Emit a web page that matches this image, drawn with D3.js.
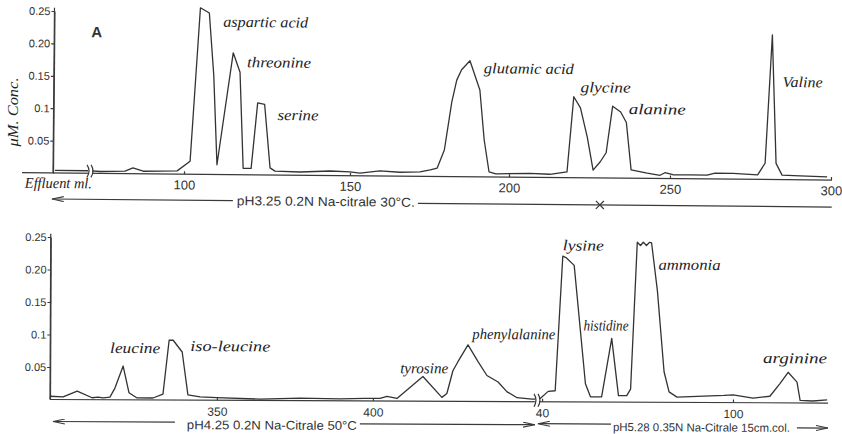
<!DOCTYPE html>
<html>
<head>
<meta charset="utf-8">
<script src="https://cdn.jsdelivr.net/npm/d3@7"></script>
<style>
  body { margin: 0; background: #fff; }
  svg { display: block; }
  .curve { fill: none; stroke: #333; stroke-width: 1.3; stroke-linejoin: round; }
  .rule { stroke: #3a3a3a; stroke-width: 1.2; fill: none; }
  .tick line, .domain { stroke: #3a3a3a; stroke-width: 1.2; }
  .tick text { fill: #333; font-family: 'Liberation Sans', sans-serif; }
  .hand { fill: #222; font-family: 'Liberation Serif', serif; font-style: italic; font-size: 15px; }
  .buffer { fill: #333; font-family: 'Liberation Sans', sans-serif; }
</style>
</head>
<body>
<svg id="chart" width="842" height="434"></svg>
<script>
// ---- run A, first column: effluent ml vs concentration ----
const topVolume = [60.6, 70.7, 74.4, 82.0, 84.4, 87.5, 97.9, 101.8, 104.5, 107.2, 108.7, 109.9,
  114.5, 116.6, 117.8, 120.2, 122.0, 124.1, 125.9, 127.4, 134.9, 144.0, 150.0, 153.1, 159.4,
  165.7, 172.0, 175.2, 177.4, 179.6, 181.8, 183.3, 184.8, 187.4, 190.6, 192.1, 193.7, 195.9,
  206.5, 212.7, 218.0, 219.9, 222.0, 224.2, 226.1, 228.3, 230.1, 232.0, 234.5, 236.3, 237.9,
  242.9, 246.9, 248.4, 250.9, 256.2, 261.5, 264.0, 269.6, 277.2, 279.5, 281.4, 282.9, 284.8,
  290.4, 298.8]
const topConc = [0.004, 0.004, 0.003, 0.004, 0.009, 0.004, 0.005, 0.020, 0.257, 0.249, 0.153, 0.015,
  0.188, 0.158, 0.010, 0.010, 0.111, 0.109, 0.011, 0.006, 0.005, 0.007, 0.006, 0.004, 0.008,
  0.006, 0.007, 0.010, 0.013, 0.041, 0.115, 0.149, 0.165, 0.179, 0.134, 0.057, 0.008, 0.005,
  0.006, 0.005, 0.009, 0.125, 0.108, 0.063, 0.012, 0.025, 0.039, 0.111, 0.102, 0.086, 0.013,
  0.008, 0.005, 0.009, 0.006, 0.006, 0.006, 0.009, 0.009, 0.007, 0.025, 0.223, 0.025, 0.007,
  0.006, 0.005]

// ---- second part, pH 4.25 buffer ----
const lowVolume1 = [296.5, 300.7, 305.2, 310.0, 311.9, 313.5, 315.7, 317.3, 319.9, 321.8, 324.4,
  329.5, 332.7, 334.6, 335.9, 338.8, 340.7, 344.6, 350.0, 363.8, 376.6, 389.4, 397.4, 402.3,
  404.5, 407.7, 416.0, 422.1, 423.7, 425.6, 427.2, 430.4, 433.7, 436.5, 440.1, 443.0, 446.2,
  451.0, 452.6]
const lowConc1 = [0.005, 0.004, 0.013, 0.003, 0.004, 0.003, 0.004, 0.018, 0.052, 0.011, 0.003,
  0.003, 0.009, 0.092, 0.092, 0.074, 0.008, 0.005, 0.004, 0.002, 0.004, 0.003, 0.004, 0.004,
  0.007, 0.004, 0.038, 0.006, 0.012, 0.047, 0.061, 0.087, 0.061, 0.040, 0.030, 0.015, 0.006,
  0.004, 0.004]

// ---- 15 cm column, pH 5.28 buffer ----
const lowVolume2 = [38.4, 39.4, 41.9, 44.1, 46.3, 47.3, 49.9, 53.6, 55.2, 58.7, 61.8, 64.0, 66.6,
  67.8, 69.7, 70.7, 71.6, 72.6, 73.5, 74.2, 76.1, 78.3, 79.9, 82.4, 97.2, 100.0, 106.3, 111.6,
  114.8, 117.3, 120.1, 121.1, 125.1, 129.6]
const lowConc2 = [0.005, 0.005, 0.016, 0.017, 0.224, 0.222, 0.210, 0.028, 0.008, 0.008, 0.098,
  0.010, 0.010, 0.020, 0.246, 0.241, 0.246, 0.241, 0.246, 0.245, 0.171, 0.047, 0.016, 0.008,
  0.011, 0.012, 0.007, 0.010, 0.030, 0.047, 0.032, 0.004, 0.003, 0.005]

// peak names, anchored in data units (volume, conc) where the writing starts
const topNames = ['aspartic acid', 'threonine', 'serine', 'glutamic acid', 'glycine', 'alanine', 'Valine']
const topNameVol = [111.4, 118.7, 128.0, 191.8, 222.0, 237.0, 284.7]
const topNameConc = [0.228, 0.166, 0.085, 0.160, 0.132, 0.099, 0.143]
const lowNames1 = ['leucine', 'iso-leucine', 'tyrosine', 'phenylalanine']
const lowNameVol1 = [315.7, 341.4, 408.7, 431.8]
const lowNameConc1 = [0.072, 0.0755, 0.043, 0.096]
const lowNames2 = ['lysine', 'histidine', 'ammonia', 'arginine']
const lowNameVol2 = [46.3, 52.9, 76.4, 109.4]
const lowNameConc2 = [0.233, 0.110, 0.204, 0.061]

const concTicks = [0.05, 0.1, 0.15, 0.2, 0.25]
const concTickLabels = ['0.05', '0.1', '0.15', '0.20', '0.25']
const topVolTicks = [100, 150, 200, 250, 300]
const lowVolTicks1 = [350, 400]
const lowVolTicks2 = [40, 100]
const buffers = ['pH3.25 0.2N Na-citrale 30°C.', 'pH4.25 0.2N Na-Citrale 50°C', 'pH5.28 0.35N Na-Citrale 15cm.col.']
const bufferChangeVol = 228.3

// ---- layout ----
const svg = d3.select('#chart')

const xTop = d3.scaleLinear().domain([60, 100, 150, 200, 250, 300]).range([53, 184, 350, 509, 670, 831])
const yTop = d3.scaleLinear().domain([0, 0.25]).range([173, 11])
const xLow1 = d3.scaleLinear().domain([296.5, 452.6]).range([50, 537])
const xLow2 = d3.scaleLinear().domain([38.4, 130.5]).range([537, 830])
const yLow = d3.scaleLinear().domain([0, 0.25]).range([399.5, 237])

const nameWidth = {
  'aspartic acid': 85, threonine: 64, serine: 41, 'glutamic acid': 90, glycine: 50, alanine: 57,
  Valine: 40, leucine: 50, 'iso-leucine': 80, tyrosine: 48, phenylalanine: 83, lysine: 41,
  histidine: 45, ammonia: 62, arginine: 64,
}

const defs = svg.append('defs')
defs
  .append('marker')
  .attr('id', 'head')
  .attr('viewBox', '0 0 12 6')
  .attr('markerUnits', 'userSpaceOnUse')
  .attr('markerWidth', 12)
  .attr('markerHeight', 6)
  .attr('refX', 12)
  .attr('refY', 3)
  .attr('orient', 'auto')
  .append('path')
  .attr('d', 'M0,0.5 L12,3 L0,5.5')
  .attr('fill', 'none')
  .attr('stroke', '#3a3a3a')
  .attr('stroke-width', 1.1)

function drawCurve(g, xs, ys, x, y) {
  const line = d3
    .line()
    .x(d => x(d[0]))
    .y(d => y(d[1]))
  g.append('path')
    .datum(d3.zip(xs, ys))
    .attr('class', 'curve')
    .attr('d', line)
}

function drawYAxis(g, x0, y) {
  // the vertical rule itself, a bit past the last tick
  g.append('line')
    .attr('class', 'rule')
    .attr('x1', x0)
    .attr('x2', x0)
    .attr('y1', y(0))
    .attr('y2', y(0.255))
  g.append('g')
    .attr('transform', `translate(${x0},0)`)
    .call(
      d3
        .axisLeft(y)
        .tickValues(concTicks)
        .tickFormat((d, i) => concTickLabels[i])
        .tickSize(3)
        .tickPadding(1)
        .tickSizeOuter(0)
    )
    .call(a => a.selectAll('text').attr('font-size', 11))
}

function drawXAxis(g, x, y0, ticks, pad, size) {
  g.append('g')
    .attr('transform', `translate(0,${y0})`)
    .call(d3.axisBottom(x).tickValues(ticks).tickSize(-3).tickPadding(pad))
    .call(a => a.select('.domain').remove())
    .call(a => a.selectAll('text').attr('font-size', size))
}

function drawBreak(g, px, yHigh, yLowEdge) {
  g.append('rect')
    .attr('x', px - 2)
    .attr('y', yHigh)
    .attr('width', 4)
    .attr('height', yLowEdge - yHigh)
    .attr('fill', '#fff')
  for (const dx of [-2, 2]) {
    const h = yLowEdge - yHigh
    g.append('path')
      .attr('class', 'rule')
      .attr('d', `M${px + dx - 1},${yHigh} q4,${h / 2} 0,${h}`)
  }
}

function drawNames(g, names, vols, concs, x, y) {
  names.forEach((n, i) => {
    g.append('text')
      .attr('class', 'hand')
      .attr('x', x(vols[i]))
      .attr('y', y(concs[i]))
      .attr('textLength', nameWidth[n])
      .attr('lengthAdjust', 'spacingAndGlyphs')
      .text(n)
  })
}

function drawBufferText(g, label, x0, baseline, width, size) {
  g.append('text')
    .attr('class', 'buffer')
    .attr('x', x0)
    .attr('y', baseline)
    .attr('font-size', size)
    .attr('textLength', width)
    .attr('lengthAdjust', 'spacingAndGlyphs')
    .text(label)
}

function arrow(g, xFrom, xTo, yy, head = true) {
  const l = g
    .append('line')
    .attr('class', 'rule')
    .attr('x1', xFrom)
    .attr('x2', xTo)
    .attr('y1', yy)
    .attr('y2', yy)
  if (head) l.attr('marker-end', 'url(#head)')
}

// ---- upper panel (scan is a little skewed) ----
const gTop = svg.append('g').attr('transform', 'rotate(0.52,53,173)')
const topBase = yTop(0)
gTop.append('line')
  .attr('class', 'rule')
  .attr('x1', xTop.range()[0] - 31)
  .attr('x2', xTop(300) + 1)
  .attr('y1', topBase)
  .attr('y2', topBase)
drawXAxis(gTop, xTop, topBase, topVolTicks, 6, 13)
drawYAxis(gTop, xTop(60), yTop)
drawCurve(gTop, topVolume, topConc, xTop, yTop)
drawBreak(gTop, xTop(71.3), yTop(0.013), topBase + 4)
drawNames(gTop, topNames, topNameVol, topNameConc, xTop, yTop)

gTop.append('text')
  .attr('x', xTop(71.3))
  .attr('y', yTop(0.21))
  .attr('font-family', 'Liberation Sans, sans-serif')
  .attr('font-weight', 'bold')
  .attr('font-size', 15)
  .attr('fill', '#333')
  .text('A')

gTop.append('text')
  .attr('class', 'hand')
  .attr('x', xTop.range()[0] - 28)
  .attr('y', topBase + 15)
  .attr('font-size', 12)
  .attr('textLength', 67)
  .attr('lengthAdjust', 'spacingAndGlyphs')
  .text('Effluent ml.')

// buffer line under the upper panel
const topTextX = xTop(116)
arrow(gTop, topTextX - 4, xTop.range()[0] - 1, topBase + 26)
drawBufferText(gTop, buffers[0], topTextX, topBase + 30.5, 178, 13)
arrow(gTop, topTextX + 181, xTop(300) + 1, topBase + 27, false)
const cx = xTop(bufferChangeVol)
gTop.append('path')
  .attr('class', 'rule')
  .attr('d', `M${cx - 4},${topBase + 23} L${cx + 4},${topBase + 31} M${cx + 4},${topBase + 23} L${cx - 4},${topBase + 31}`)

svg.append('text')
  .attr('class', 'hand')
  .attr('transform', 'translate(18,112) rotate(-90)')
  .attr('text-anchor', 'middle')
  .attr('font-size', 12)
  .attr('textLength', 69)
  .attr('lengthAdjust', 'spacingAndGlyphs')
  .text('μM. Conc.')

// ---- lower panel ----
const gLow = svg.append('g').attr('transform', 'rotate(0.26,50,399.5)')
const lowBase = yLow(0)
gLow.append('line')
  .attr('class', 'rule')
  .attr('x1', xLow1.range()[0])
  .attr('x2', xLow2.range()[1] - 2)
  .attr('y1', lowBase)
  .attr('y2', lowBase)
drawXAxis(gLow, xLow1, lowBase, lowVolTicks1, 7, 12)
drawXAxis(gLow, xLow2, lowBase, lowVolTicks2, 7, 12)
drawYAxis(gLow, xLow1.range()[0], yLow)
drawCurve(gLow, lowVolume1, lowConc1, xLow1, yLow)
drawCurve(gLow, lowVolume2, lowConc2, xLow2, yLow)
drawBreak(gLow, xLow1.range()[1], yLow(0.012), lowBase + 5)
drawNames(gLow, lowNames1, lowNameVol1, lowNameConc1, xLow1, yLow)
drawNames(gLow, lowNames2, lowNameVol2, lowNameConc2, xLow2, yLow)

// buffer lines under the lower panel
const lowText1 = xLow1(340.4)
arrow(gLow, lowText1 - 12, xLow1.range()[0] + 3, lowBase + 22)
drawBufferText(gLow, buffers[1], lowText1, lowBase + 29, 170, 12.5)
arrow(gLow, lowText1 + 173, xLow1.range()[1] - 2, lowBase + 23)
const lowText2 = xLow2(62.3)
arrow(gLow, lowText2 - 2, xLow2.range()[0] + 1, lowBase + 22)
drawBufferText(gLow, buffers[2], lowText2, lowBase + 29, 177, 11.5)
arrow(gLow, lowText2 + 184, xLow2.range()[1] - 2, lowBase + 25)
</script>
</body>
</html>
